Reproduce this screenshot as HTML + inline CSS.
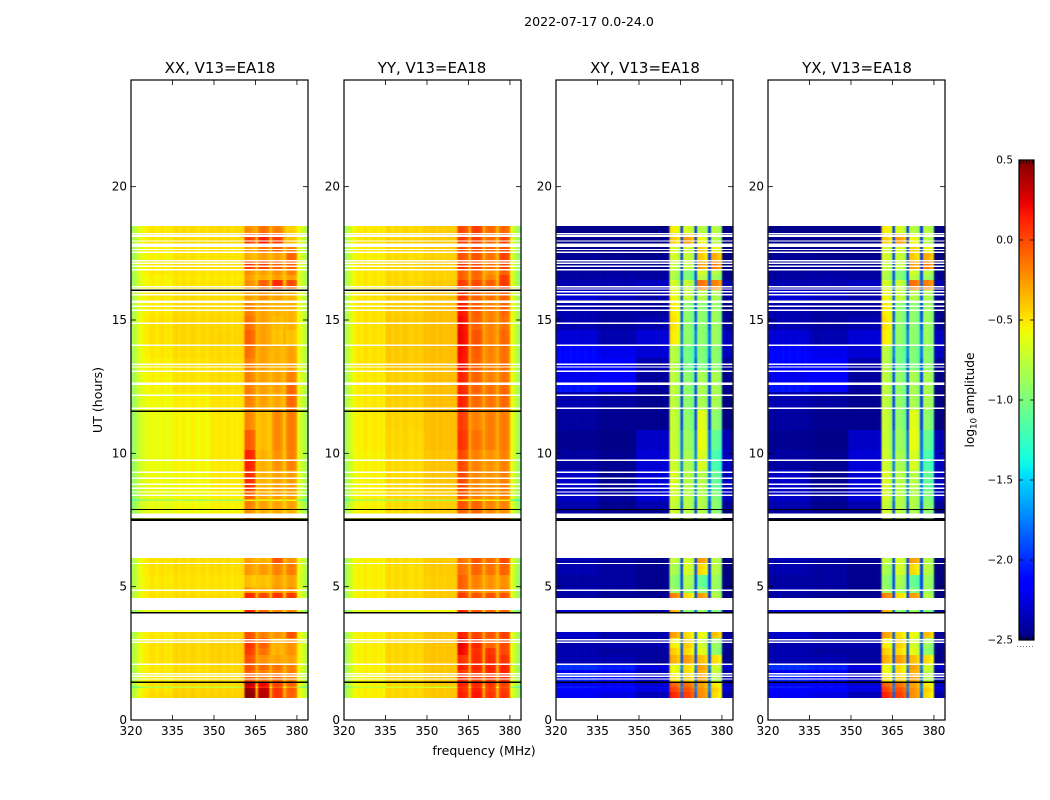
<!DOCTYPE html>
<html>
<head>
<meta charset="utf-8">
<style>
html,body{margin:0;padding:0;background:#fff;}
svg{display:block;}
text{font-family:"DejaVu Sans","Liberation Sans",sans-serif;fill:#000;}
</style>
</head>
<body>
<svg id="figure" xmlns="http://www.w3.org/2000/svg" width="1050" height="800" viewBox="0 0 1050 800">
  <defs><filter id="soften" x="-2%" y="0" width="104%" height="100%" color-interpolation-filters="sRGB"><feGaussianBlur stdDeviation="0.8 0"/></filter></defs>
  <rect width="1050" height="800" fill="#fff"/>
  <g id="panels"></g>
  <text x="589" y="26" font-size="12.6" text-anchor="middle">2022-07-17 0.0-24.0</text>
  <text x="220" y="73" font-size="15" text-anchor="middle">XX, V13=EA18</text>
  <text x="432" y="73" font-size="15" text-anchor="middle">YY, V13=EA18</text>
  <text x="645" y="73" font-size="15" text-anchor="middle">XY, V13=EA18</text>
  <text x="857" y="73" font-size="15" text-anchor="middle">YX, V13=EA18</text>
  <text x="484" y="755" font-size="12.5" text-anchor="middle">frequency (MHz)</text>
  <text transform="translate(102,400) rotate(-90)" font-size="12.6" text-anchor="middle">UT (hours)</text>
  <text transform="translate(974,400) rotate(-90)" font-size="12.2" text-anchor="middle">log<tspan font-size="8.5" dy="2.5">10</tspan><tspan dy="-2.5"> amplitude</tspan></text>
  <g id="colorbar"></g>
</svg>
<script>
// ---------- axis data ----------
const xTickValues = [320, 335, 350, 365, 380];
const yTickValues = [0, 5, 10, 15, 20];
const colorbarTickValues = [-2.5, -2.0, -1.5, -1.0, -0.5, 0.0, 0.5];

// ---------- time bands of the heatmap (UT hours) ----------
const rowTopHours = [18.52,18.26,17.74,17.51,17.21,16.88,16.69,16.5,16.13,15.75,15.15,14.63,14.06,13.58,13.13,12.56,12.3,11.63,10.88,10.13,9.38,8.63,8.27,8.21,7.88,
  6.08,5.89,5.44,4.99,4.76,4.13,
  3.3,3.08,2.7,2.44,2.1,1.88,1.73,1.43,1.26,1.2,1.05];
const rowBottomHours = [18.26,17.74,17.51,17.21,16.88,16.69,16.5,16.13,15.75,15.15,14.63,14.06,13.58,13.13,12.56,12.3,11.63,10.88,10.13,9.38,8.63,8.27,8.21,7.88,7.54,
  5.89,5.44,4.99,4.76,4.58,4.03,
  3.08,2.7,2.44,2.1,1.88,1.73,1.43,1.26,1.2,1.05,0.83];

// ---------- channel map: which zone of a row each 1 MHz channel reads ----------
const channelZone = [0,0,0,0,0,0,0,0,0,0,0,0,0,0,0,
  1,1,1,1,1,1,1,1,1,1,1,1,1,1,
  2,2,2,2,2,2,2,2,2,2,2,2,
  3,3,3,3,2,4,4,4,4,2,5,5,5,5,2,6,6,6,6,2,2,2,2];

// ---------- per-channel offsets (log10 amplitude) ----------
const rippleXX = [-.32,-.25,-.16,-.08,-.04,-.02,-.01,.03,.01,-.02,.02,.03,-.01,.02,-.01,
  .01,.03,-.01,.02,.02,-.02,.01,.03,0,-.02,.01,.02,-.02,.01,
  .02,-.01,.01,.02,-.02,.01,.02,-.02,.01,0,.01,.02,
  .05,.03,0,-.03,.12,0,.03,.02,-.02,.12,-.01,.03,.02,-.02,.12,-.01,.03,.02,-.02,-.1,-.17,-.25,-.35];
const rippleYY = [-.34,-.26,-.14,-.06,-.02,.01,-.02,.03,.01,-.02,.02,.03,-.01,.02,-.01,
  .02,.03,-.02,.02,.01,-.02,.02,.03,0,-.02,.01,.02,-.01,.01,
  .01,-.01,.01,.02,-.01,.01,.01,-.01,.01,0,.01,.01,
  .05,.03,0,-.03,.08,0,.03,.02,-.02,.08,-.01,.03,.02,-.02,.08,-.01,.03,.02,-.02,-.18,-.28,-.4,-.52];
const rippleCross = [0,.02,-.01,.02,0,.03,-.02,.02,.01,-.02,.02,.01,-.01,.02,0,
  .01,.02,-.02,.01,.02,-.01,0,.02,.01,-.02,.01,0,.02,-.01,
  0,.01,-.01,.01,0,-.01,.01,0,-.01,0,.01,.03,
  .06,.02,0,-.08,.5,.04,.03,0,-.08,.5,.04,.03,0,-.08,.5,.04,.03,0,-.08,-.05,-.05,-.05,-.05];

// ---------- band levels per time row: [320-335, 335-349, 349-361, band1, band2, band3, band4] ----------
const valuesXX = [
 [-.52,-.48,-.47,-.25,-.15,-.2,-.45],[-.52,-.48,-.47,0,.1,.02,-.4],[-.55,-.5,-.5,-.3,-.15,-.1,-.2],[-.55,-.5,-.5,-.35,-.3,-.3,-.1],
 [-.52,-.48,-.48,.02,0,-.1,-.1],[-.52,-.5,-.5,-.25,-.3,-.25,-.2],[-.55,-.52,-.52,-.3,-.35,-.3,-.3],[-.55,-.5,-.5,-.25,-.1,.08,-.03],
 [-.52,-.48,-.48,-.3,-.25,-.3,-.35],[-.52,-.47,-.47,-.2,-.3,-.35,-.35],[-.5,-.46,-.46,-.15,-.3,-.38,-.35],[-.5,-.46,-.45,-.1,-.3,-.4,-.4],
 [-.52,-.48,-.47,-.15,-.3,-.35,-.3],[-.54,-.5,-.48,-.2,-.3,-.35,-.3],[-.55,-.5,-.48,-.2,-.3,-.3,-.2],[-.56,-.5,-.48,-.2,-.3,-.3,-.12],
 [-.58,-.54,-.5,-.2,-.3,-.32,-.12],[-.6,-.56,-.52,-.22,-.38,-.22,-.18],[-.6,-.56,-.52,-.08,-.38,-.22,-.18],[-.6,-.56,-.52,.1,-.35,-.25,-.2],
 [-.6,-.57,-.52,.06,-.35,-.3,-.28],[-.62,-.58,-.54,-.1,-.33,-.3,-.3],[-.9,-.9,-.9,-.6,-.6,-.6,-.6],[-.62,-.58,-.55,-.2,-.3,-.3,-.3],
 [-.62,-.58,-.56,-.25,-.35,-.32,-.35],
 [-.5,-.48,-.48,-.3,-.35,-.05,-.25],[-.5,-.48,-.48,-.28,-.28,-.2,-.18],[-.52,-.5,-.5,-.4,-.4,-.3,-.3],[-.52,-.5,-.5,-.3,-.35,-.25,-.25],[-.5,-.48,-.48,.08,-.02,.05,.02],
 [-.62,-.6,-.58,.12,-.1,-.2,-.2],
 [-.52,-.48,-.45,-.05,-.2,-.25,-.05],[-.5,-.46,-.44,.05,-.1,-.35,-.25],[-.5,-.46,-.44,.02,-.15,-.35,-.25],[-.5,-.46,-.44,-.05,-.25,-.3,-.3],
 [-.52,-.48,-.46,-.05,-.12,-.15,-.2],[-.52,-.48,-.46,-.1,-.2,-.2,-.2],[-.54,-.5,-.48,-.05,-.15,-.1,-.2],[-.5,-.46,-.46,.32,.2,.02,-.1],
 [-.8,-.75,-.75,.2,.1,-.1,-.3],[-.5,-.45,-.45,.42,.32,.05,-.08],[-.48,-.44,-.44,.45,.34,.05,-.1]
];
const valuesYY = [
 [-.52,-.47,-.43,-.02,.02,-.12,-.12],[-.5,-.45,-.42,.02,.02,-.12,-.02],[-.52,-.46,-.42,-.05,-.02,-.12,-.05],[-.54,-.48,-.44,-.05,-.05,-.15,0],
 [-.5,-.45,-.42,.05,-.02,-.15,-.02],[-.52,-.47,-.44,-.1,-.1,-.25,-.1],[-.52,-.47,-.44,-.1,-.12,-.2,.02],[-.52,-.46,-.42,.02,-.02,-.08,.03],
 [-.5,-.44,-.4,.05,-.1,-.15,-.1],[-.5,-.43,-.38,.13,-.08,-.2,-.12],[-.5,-.42,-.38,.17,-.1,-.2,-.15],[-.5,-.42,-.38,.18,-.05,-.2,-.12],
 [-.5,-.42,-.38,.16,-.08,-.2,-.15],[-.5,-.42,-.38,.15,-.1,-.2,-.15],[-.52,-.44,-.38,.1,-.1,-.2,-.15],[-.52,-.44,-.38,.08,-.1,-.15,-.12],
 [-.52,-.44,-.38,.1,-.12,-.15,-.12],[-.53,-.45,-.38,.02,-.2,-.18,-.18],[-.53,-.46,-.38,.04,-.15,-.18,-.18],[-.55,-.47,-.4,-.02,-.2,-.25,-.2],
 [-.55,-.47,-.4,-.02,-.22,-.25,-.2],[-.55,-.47,-.42,-.05,-.2,-.25,-.2],[-.85,-.85,-.85,-.55,-.55,-.55,-.55],[-.55,-.48,-.43,-.05,-.1,-.2,-.2],
 [-.55,-.48,-.43,-.1,-.1,-.22,-.25],
 [-.54,-.48,-.42,-.15,-.05,-.12,-.02],[-.54,-.48,-.42,-.15,-.1,-.15,-.1],[-.54,-.48,-.43,-.1,-.2,-.25,-.25],[-.54,-.48,-.43,-.1,-.22,-.25,-.22],[-.54,-.47,-.42,.02,-.05,-.05,-.05],
 [-.62,-.6,-.56,.1,-.05,-.1,-.1],
 [-.54,-.47,-.4,.1,0,-.05,.02],[-.54,-.46,-.4,.2,.1,-.1,-.02],[-.54,-.46,-.4,.18,.06,.05,-.02],[-.54,-.46,-.4,.05,.08,.08,.05],
 [-.55,-.47,-.41,.12,.1,.1,.1],[-.55,-.47,-.41,.02,.05,.08,.1],[-.55,-.47,-.41,.08,.02,.02,.05],[-.55,-.47,-.41,.12,.1,.05,.02],
 [-.75,-.7,-.7,.05,.05,0,-.05],[-.54,-.46,-.41,.08,.12,.02,.02],[-.54,-.46,-.41,.12,.15,.05,.05]
];
const valuesXY = [
 [-2.48,-2.48,-2.48,-.55,-.7,-.8,-.8],[-2.46,-2.46,-2.46,-.45,-.3,-.6,-.8],[-2.46,-2.46,-2.46,-.7,-.7,-.45,-.6],[-2.44,-2.46,-2.46,-.7,-.75,-.45,-.35],
 [-2.44,-2.42,-2.44,-.75,-.75,-.3,-.2],[-2.42,-2.42,-2.42,-.8,-1,-.7,-.8],[-2.42,-2.4,-2.42,-.85,-1,-.8,-.9],[-2.38,-2.38,-2.33,-.7,-.75,-.15,-.2],
 [-2.28,-2.33,-2.38,-.6,-.75,-.8,-.85],[-2.38,-2.42,-2.42,-.55,-.95,-.95,-.9],[-2.38,-2.42,-2.38,-.52,-.95,-.95,-.9],[-2.28,-2.38,-2.28,-.55,-.95,-.95,-.9],
 [-2.12,-2.22,-2.28,-.8,-1.05,-1,-.95],[-2.12,-2.18,-2.38,-.8,-1.05,-1,-.95],[-2.22,-2.18,-2.42,-.78,-.95,-.85,-.85],[-2.08,-2.18,-2.42,-.78,-.95,-.85,-.85],
 [-2.38,-2.42,-2.46,-.78,-.95,-.85,-.85],[-2.42,-2.46,-2.46,-.75,-.95,-.65,-.95],[-2.46,-2.48,-2.32,-.75,-.9,-.62,-1.1],[-2.42,-2.46,-2.28,-.72,-.85,-.68,-1.2],
 [-2.32,-2.46,-2.28,-.68,-.8,-.8,-1.1],[-2.32,-2.42,-2.28,-.7,-.8,-.82,-1],[-2.32,-2.42,-2.28,-.7,-.8,-.82,-1],[-2.38,-2.46,-2.38,-.75,-.82,-.82,-.95],
 [-2.42,-2.46,-2.46,-.7,-.8,-.82,-.95],
 [-2.38,-2.42,-2.46,-.75,-.7,-.3,-.8],[-2.38,-2.42,-2.46,-.85,-.7,-.5,-.8],[-2.42,-2.42,-2.46,-.95,-.85,-1.1,-.9],[-2.38,-2.42,-2.46,-.9,-.9,-1,-.9],[-2.42,-2.46,-2.46,-.2,-.5,-.3,-.8],
 [-2.3,-2.3,-2.38,-.35,-.95,-.9,-1],
 [-2.32,-2.38,-2.38,-.3,-.5,-.6,-.4],[-2.38,-2.38,-2.38,-.55,-.45,-.7,-.9],[-2.38,-2.42,-2.42,-.45,-.5,-.65,-.95],[-2.38,-2.38,-2.42,-.35,-.3,-.4,-.5],
 [-2,-2.05,-2.25,-.6,-.5,-.3,-.7],[-2.22,-2.22,-2.36,-.6,-.5,-.35,-.75],[-2.05,-2.1,-2.3,-.5,-.45,-.3,-.8],[-2.2,-2.2,-2.3,-.1,-.15,-.3,-.55],
 [-2.05,-2.1,-2.2,-.05,-.1,-.3,-.5],[-2.15,-2.15,-2.25,0,-.05,-.25,-.45],[-2.2,-2.25,-2.35,.1,0,-.25,-.5]
];
const valuesYX = valuesXY;

// ---------- flagged time slots (UT hours): white gaps and black dividers ----------
const gapHours = [18.24,18.16,17.97,17.85,17.78,17.64,17.54,17.22,17.13,17.01,16.89,16.25,16.16,16.06,15.95,15.69,15.51,15.36,14.88,14.05,13.34,13.24,13.08,12.61,12.18,11.69,9.74,9.29,9.06,8.84,8.69,8.55,8.43,7.66,5.87,4.86,3.01,2.91,2.09,1.74,1.64,1.54];
const gapSpans = [.04,.09,.04,.05,.09,.04,.05,.05,.05,.05,.05,.05,.05,.05,.05,.09,.05,.05,.05,.05,.05,.05,.05,.09,.05,.05,.05,.05,.05,.05,.05,.05,.05,.16,.05,.05,.05,.05,.05,.05,.05,.05];
const dividerHoursParallel = [1.41,4.02,7.51,7.89,11.57,16.11];
const dividerSpansParallel = [.05,.05,.09,.04,.055,.05];
const dividerHoursCross = [1.41,4.02,7.51,7.89];
const dividerSpansCross = [.05,.05,.09,.04];

// ---------- panel layout ----------
const panelLefts = [131, 344, 556, 768];
const panelNames = ['xx', 'yy', 'xy', 'yx'];
const panelValues = [valuesXX, valuesYY, valuesXY, valuesYX];
const panelRipples = [rippleXX, rippleYY, rippleCross, rippleCross];
const panelDividerHours = [dividerHoursParallel, dividerHoursParallel, dividerHoursCross, dividerHoursCross];
const panelDividerSpans = [dividerSpansParallel, dividerSpansParallel, dividerSpansCross, dividerSpansCross];
const panelWidth = 177, plotTop = 80, plotBottom = 720;
const freqMin = 320, freqMax = 384, hourMax = 24;

function xScale(left, mhz) { return left + (mhz - freqMin) / (freqMax - freqMin) * panelWidth; }
function yScale(hour) { return plotBottom - hour / hourMax * (plotBottom - plotTop); }

function jetChannel(t, pts) {
  for (let i = 1; i < pts.length; i++) {
    if (t <= pts[i][0]) {
      const a = pts[i - 1], b = pts[i];
      return a[1] + (b[1] - a[1]) * (t - a[0]) / (b[0] - a[0]);
    }
  }
  return pts[pts.length - 1][1];
}
const jetR = [[0,0],[.35,0],[.66,1],[.89,1],[1,.5]];
const jetG = [[0,0],[.125,0],[.375,1],[.64,1],[.91,0],[1,0]];
const jetB = [[0,.5],[.11,1],[.34,1],[.65,0],[1,0]];
function jet(value) {
  const t = Math.max(0, Math.min(1, (value + 2.5) / 3));
  const c = v => Math.round(v * 255);
  return 'rgb(' + c(jetChannel(t, jetR)) + ',' + c(jetChannel(t, jetG)) + ',' + c(jetChannel(t, jetB)) + ')';
}

const NS = 'http://www.w3.org/2000/svg';
function make(tag, attrs, parent) {
  const el = document.createElementNS(NS, tag);
  for (const k in attrs) el.setAttribute(k, attrs[k]);
  parent.appendChild(el);
  return el;
}

const panelsRoot = document.getElementById('panels');
panelLefts.forEach(function (left, p) {
  const g = make('g', {}, panelsRoot);
  
  
  const heat = make('g', { 'shape-rendering': 'crispEdges', filter: 'url(#soften)' }, g);
  
  
  const rows = panelValues[p], ripple = panelRipples[p];
  rows.forEach(function (row, r) {
    const y0 = yScale(rowTopHours[r]), y1 = yScale(rowBottomHours[r]);
    channelZone.forEach(function (zone, c) {
      const x0 = xScale(left, freqMin + c), x1 = xScale(left, freqMin + c + 1);
      const cell = make('rect', { x: x0, y: y0, width: x1 - x0, height: y1 - y0, fill: jet(row[zone] + ripple[c]) }, heat);
      
      
    });
  });
  gapHours.forEach(function (h, i) {
    const gap = make('rect', { x: left, y: yScale(h + gapSpans[i] / 2), width: panelWidth, height: yScale(h - gapSpans[i] / 2) - yScale(h + gapSpans[i] / 2), fill: '#fff', 'shape-rendering': 'crispEdges' }, g);
    
    
  });
  const dividerSpans = panelDividerSpans[p];
  panelDividerHours[p].forEach(function (h, i) {
    const line = make('rect', { x: left, y: yScale(h + dividerSpans[i] / 2), width: panelWidth, height: yScale(h - dividerSpans[i] / 2) - yScale(h + dividerSpans[i] / 2), fill: '#000', 'shape-rendering': 'crispEdges' }, g);
    
    
  });
  const frame = make('rect', { x: left, y: plotTop, width: panelWidth, height: plotBottom - plotTop, fill: 'none', stroke: '#000', 'stroke-width': 1.2 }, g);
  
  
  xTickValues.forEach(function (v) {
    const x = xScale(left, v);
    const t1 = make('line', { x1: x, x2: x, y1: plotBottom, y2: plotBottom - 5, stroke: '#000', 'stroke-width': 0.8 }, g);
    
    
    const t2 = make('line', { x1: x, x2: x, y1: plotTop, y2: plotTop + 5, stroke: '#000', 'stroke-width': 0.8 }, g);
    
    
    const lab = make('text', { x: x, y: 735, 'font-size': 12, 'text-anchor': 'middle' }, g);
    lab.textContent = String(v);
    
    
  });
  yTickValues.forEach(function (v) {
    const y = yScale(v);
    const t1 = make('line', { x1: left, x2: left + 5, y1: y, y2: y, stroke: '#000', 'stroke-width': 0.8 }, g);
    
    
    const t2 = make('line', { x1: left + panelWidth, x2: left + panelWidth - 5, y1: y, y2: y, stroke: '#000', 'stroke-width': 0.8 }, g);
    
    
    const lab = make('text', { x: left - 4, y: y + 4, 'font-size': 12, 'text-anchor': 'end' }, g);
    lab.textContent = String(v);
    
    
  });
});

// ---------- colorbar ----------
const cbLeft = 1019, cbWidth = 15, cbTop = 160, cbBottom = 640, cbMin = -2.5, cbMax = 0.5;
function cbY(v) { return cbBottom - (v - cbMin) / (cbMax - cbMin) * (cbBottom - cbTop); }
const cbRoot = document.getElementById('colorbar');
const defs = make('defs', {}, cbRoot);
const grad = make('linearGradient', { id: 'jetGrad', x1: 0, y1: 1, x2: 0, y2: 0 }, defs);
for (let i = 0; i <= 60; i++) {
  make('stop', { offset: i / 60, 'stop-color': jet(cbMin + (cbMax - cbMin) * i / 60) }, grad);
}
const cbBody = make('rect', { x: cbLeft, y: cbTop, width: cbWidth, height: cbBottom - cbTop, fill: 'url(#jetGrad)', stroke: '#000', 'stroke-width': 1.2 }, cbRoot);


colorbarTickValues.forEach(function (v) {
  const y = cbY(v);
  const lab = make('text', { x: 1013, y: y + 3.5, 'font-size': 10.5, 'text-anchor': 'end' }, cbRoot);
  lab.textContent = v.toFixed(1).replace('-', '\u2212');
  
  
  const t1 = make('line', { x1: cbLeft, x2: cbLeft + 4, y1: y, y2: y, stroke: '#000', 'stroke-width': 0.8 }, cbRoot);
  
  
  const t2 = make('line', { x1: cbLeft + cbWidth, x2: cbLeft + cbWidth - 4, y1: y, y2: y, stroke: '#000', 'stroke-width': 0.8 }, cbRoot);
  
  
});
[0, 3, 6, 9, 12].forEach(function (dx) {
  const a = make('line', { x1: cbLeft + 1.5 + dx, x2: cbLeft + 1.5 + dx, y1: cbTop, y2: cbTop + 4, stroke: '#000', 'stroke-width': 0.7 }, cbRoot);
  
  
  const b = make('line', { x1: cbLeft + 1.5 + dx, x2: cbLeft + 1.5 + dx, y1: cbBottom, y2: cbBottom - 4, stroke: '#000', 'stroke-width': 0.7 }, cbRoot);
  
  
});
const dots = make('line', { x1: 1017, x2: 1035, y1: 646.5, y2: 646.5, stroke: '#777', 'stroke-width': 1, 'stroke-dasharray': '1 2' }, cbRoot);


</script>
</body>
</html>
